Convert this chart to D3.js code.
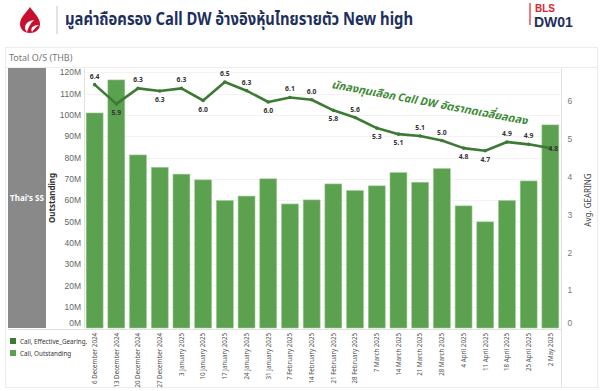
<!DOCTYPE html>
<html>
<head>
<meta charset="utf-8">
<script src="https://cdn.jsdelivr.net/npm/d3@7"></script>
<style>
  body { margin: 0; background: #fff; }
  svg { display: block; font-family: "Noto Sans", "Noto Sans Thai", "Open Sans", sans-serif; }
</style>
</head>
<body>
<div id="chart"></div>
<script>
// weekly dates
let dates = ["6 December 2024", "13 December 2024", "20 December 2024", "27 December 2024",
  "3 January 2025", "10 January 2025", "17 January 2025", "24 January 2025", "31 January 2025",
  "7 February 2025", "14 February 2025", "21 February 2025", "28 February 2025",
  "7 March 2025", "14 March 2025", "21 March 2025", "28 March 2025",
  "4 April 2025", "11 April 2025", "18 April 2025", "25 April 2025", "2 May 2025"];

// Call outstanding, million THB
let outstanding = [100.9, 116.4, 81.2, 75.4, 72.2, 69.5, 59.8, 61.9, 70.0, 58.2, 60.1,
  67.6, 64.5, 66.7, 72.9, 68.4, 74.8, 57.3, 49.8, 59.8, 69.0, 95.3];

// Call effective gearing (avg)
let gearing = [6.44, 5.93, 6.34, 6.27, 6.34, 6.02, 6.51, 6.28, 5.98, 6.10, 6.04,
  5.76, 5.57, 5.29, 5.13, 5.08, 4.96, 4.76, 4.69, 4.92, 4.86, 4.76];

let leftTicks = [0, 10, 20, 30, 40, 50, 60, 70, 80, 90, 100, 110, 120];
let rightTicks = [0, 1, 2, 3, 4, 5, 6];
let legendItems = [
  {name: "Call, Effective_Gearing.", color: "#3d7a34"},
  {name: "Call, Outstanding", color: "#5ba14f"}
];

let dim = {'width': 604, 'height': 391};
let plot = {left: 84, right: 561, top: 68, bottom: 328};
let navy = "#1c2f5e";

let svg = d3.select('#chart').append('svg')
    .attr('width', dim.width)
    .attr('height', dim.height);

// ---- header ----
let logo = svg.append('g').attr('transform', 'translate(30,20)');
logo.append('path')
    .attr('d', 'M0,-13 C4,-7 10,-2 10,4 C10,10 5,13 0,13 C-6,13 -10,9 -10,4 C-10,-3 -4,-7 0,-13 Z')
    .attr('fill', '#c8102e');
logo.append('path')
    .attr('d', 'M-3,12 C-7,8 -5,1 4,0 C1,3 -1,6 -3,12 Z')
    .attr('fill', '#fff');
logo.append('path')
    .attr('d', 'M2,12 C0,8 3,5 9,5 C6,7 4,9 2,12 Z')
    .attr('fill', '#fff');

svg.append('line')
    .attr('x1', 57).attr('x2', 57).attr('y1', 6).attr('y2', 34)
    .attr('stroke', '#c8c8c8').attr('stroke-width', 1);

svg.append('text')
    .attr('x', 65).attr('y', 25)
    .attr('font-size', 17).attr('font-weight', 'bold')
    .attr('fill', navy)
    .attr('textLength', 348).attr('lengthAdjust', 'spacingAndGlyphs')
    .text('มูลค่าถือครอง Call DW อ้างอิงหุ้นไทยรายตัว New high');

svg.append('line')
    .attr('x1', 530).attr('x2', 530).attr('y1', 3).attr('y2', 25)
    .attr('stroke', '#e4202e').attr('stroke-width', 1.2);
svg.append('text')
    .attr('x', 535).attr('y', 11.5)
    .attr('font-family', '"Liberation Sans", Arial, sans-serif')
    .attr('font-size', 10).attr('font-weight', 'bold')
    .attr('fill', '#e4202e').text('BLS');
svg.append('text')
    .attr('x', 534).attr('y', 27)
    .attr('font-family', '"Liberation Sans", Arial, sans-serif')
    .attr('font-size', 14).attr('font-weight', 'bold')
    .attr('fill', navy).text('DW01');

// ---- frame ----
svg.append('rect')
    .attr('x', 5.5).attr('y', 47.5).attr('width', 592).attr('height', 340)
    .attr('fill', 'none').attr('stroke', '#ececec');
svg.append('text')
    .attr('x', 9).attr('y', 61)
    .attr('font-size', 9).attr('fill', '#777')
    .text('Total O/S (THB)');
svg.append('line')
    .attr('x1', 6).attr('x2', 597).attr('y1', 67.5).attr('y2', 67.5)
    .attr('stroke', '#ececec');

// grey side panel
svg.append('rect')
    .attr('x', 8).attr('y', plot.top).attr('width', 38).attr('height', plot.bottom - plot.top)
    .attr('fill', '#898989');
svg.append('text')
    .attr('x', 27).attr('y', 201)
    .attr('text-anchor', 'middle')
    .attr('font-size', 8).attr('font-weight', 'bold')
    .attr('fill', '#fff').text("Thai's SS");

// ---- scales ----
let scaleX = d3.scaleBand()
    .domain(dates)
    .range([plot.left, plot.right])
    .paddingInner(0.22)
    .paddingOuter(0.1);

let scaleY = d3.scaleLinear()
    .domain([0, 122])
    .range([plot.bottom, plot.top]);

let scaleY2 = d3.scaleLinear()
    .domain([0, 6.88])
    .range([plot.bottom, plot.top]);

// gridlines
svg.append('g')
    .selectAll('line')
    .data(leftTicks.slice(1))
    .join('line')
    .attr('x1', plot.left).attr('x2', plot.right)
    .attr('y1', d => Math.round(scaleY(d)) + 0.5)
    .attr('y2', d => Math.round(scaleY(d)) + 0.5)
    .attr('stroke', '#f3f3f3');

// left axis
let axisY = svg.append('g')
    .attr('transform', `translate(${plot.left},0)`)
    .call(d3.axisLeft(scaleY).tickValues(leftTicks).tickSize(0).tickPadding(3)
        .tickFormat(d => d + 'M'));
axisY.select('.domain').attr('stroke', '#e2e2e2');
axisY.selectAll('text')
    .attr('font-size', 8.5).attr('fill', '#666')
    .attr('font-family', 'inherit')
    .attr('dy', d => d === 0 ? '-0.3em' : '0.32em');

svg.append('text')
    .attr('transform', 'translate(55,198) rotate(-90)')
    .attr('text-anchor', 'middle')
    .attr('font-size', 8).attr('font-weight', 'bold')
    .attr('fill', '#333').text('Outstanding');

// right axis
let axisY2 = svg.append('g')
    .attr('transform', `translate(${plot.right + 0.5},0)`)
    .call(d3.axisRight(scaleY2).tickValues(rightTicks).tickSize(0).tickPadding(6)
        .tickFormat(d3.format('d')));
axisY2.select('.domain').remove();
axisY2.selectAll('text')
    .attr('font-size', 8.5).attr('fill', '#777')
    .attr('font-family', 'inherit')
    .attr('dy', d => d === 0 ? '-0.3em' : '0.32em');
svg.append('line')
    .attr('x1', plot.right + 0.5).attr('x2', plot.right + 0.5)
    .attr('y1', plot.top).attr('y2', 387)
    .attr('stroke', '#e2e2e2');
svg.append('text')
    .attr('transform', 'translate(591,200) rotate(-90)')
    .attr('text-anchor', 'middle')
    .attr('font-size', 8).attr('fill', '#444')
    .text('Avg. GEARING');

// baseline
svg.append('line')
    .attr('x1', 8).attr('x2', plot.right)
    .attr('y1', plot.bottom + 1.5).attr('y2', plot.bottom + 1.5)
    .attr('stroke', '#e2e2e2');

// ---- bars ----
svg.append('g')
    .selectAll('rect')
    .data(dates.map((d, i) => ({date: d, value: outstanding[i]})))
    .join('rect')
    .attr('x', d => scaleX(d.date))
    .attr('y', d => scaleY(d.value))
    .attr('width', scaleX.bandwidth())
    .attr('height', d => scaleY(0) - scaleY(d.value))
    .attr('fill', legendItems[1].color)
    .attr('stroke', '#9fcd94')
    .attr('stroke-width', 0.6);

// x labels
svg.append('g')
    .selectAll('text')
    .data(dates)
    .join('text')
    .attr('transform', d => `translate(${scaleX(d) + scaleX.bandwidth() / 2 + 2.3},333) rotate(-90)`)
    .attr('text-anchor', 'end')
    .attr('font-size', 6.2).attr('fill', '#555')
    .text(d => d);

// ---- gearing line ----
let points = dates.map((d, i) => ({date: d, value: gearing[i], i: i}));
let lineGen = d3.line()
    .x(d => scaleX(d.date) + scaleX.bandwidth() / 2)
    .y(d => scaleY2(d.value));

svg.append('path')
    .datum(points)
    .attr('d', lineGen)
    .attr('fill', 'none')
    .attr('stroke', legendItems[0].color)
    .attr('stroke-width', 2.6)
    .attr('stroke-linejoin', 'round');

svg.append('g')
    .selectAll('circle')
    .data(points)
    .join('circle')
    .attr('cx', d => scaleX(d.date) + scaleX.bandwidth() / 2)
    .attr('cy', d => scaleY2(d.value))
    .attr('r', 1.8)
    .attr('fill', legendItems[0].color);

// label above when the point sits above its neighbours' average
function isAbove(i) {
    let prev = i > 0 ? gearing[i - 1] : gearing[i + 1];
    let next = i < gearing.length - 1 ? gearing[i + 1] : gearing[i - 1];
    return gearing[i] >= (prev + next) / 2;
}

svg.append('g')
    .selectAll('text')
    .data(points)
    .join('text')
    .attr('x', d => scaleX(d.date) + scaleX.bandwidth() / 2 + (d.i === points.length - 1 ? 3 : 0))
    .attr('y', d => {
        let y = scaleY2(d.value);
        if (d.i === points.length - 1) return y + 2.5;
        return isAbove(d.i) ? y - 6 : y + 11;
    })
    .attr('text-anchor', 'middle')
    .attr('font-size', 6.8).attr('font-weight', 'bold')
    .attr('fill', '#333')
    .text(d => d3.format('.1f')(d.value));

// annotation
svg.append('text')
    .attr('transform', 'translate(331,88) rotate(10.6)')
    .attr('font-size', 11).attr('font-weight', 'bold').attr('font-style', 'italic')
    .attr('fill', '#3f8a38')
    .text('นักลงทุนเลือก Call DW อัตราทดเฉลี่ยลดลง');

// ---- legend ----
let legend = svg.append('g')
    .selectAll('g')
    .data(legendItems)
    .join('g')
    .attr('transform', (d, i) => `translate(10,${338 + i * 12})`);
legend.append('rect')
    .attr('width', 6).attr('height', 6)
    .attr('fill', d => d.color);
legend.append('text')
    .attr('x', 10).attr('y', 5.5)
    .attr('font-size', 6.3).attr('fill', '#333')
    .text(d => d.name);
</script>
</body>
</html>
